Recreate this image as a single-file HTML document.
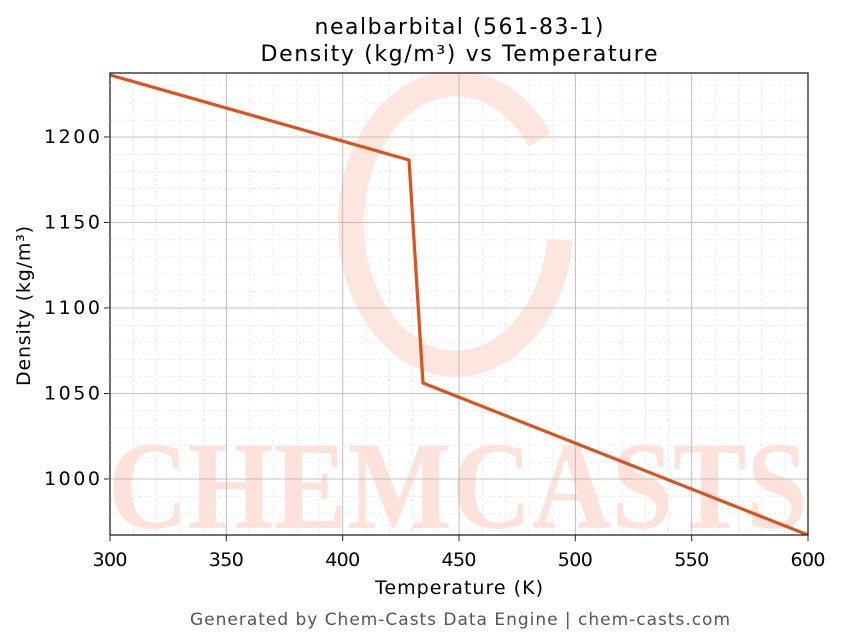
<!DOCTYPE html>
<html><head><style>body{margin:0;background:#fff}svg{display:block;font-family:"DejaVu Sans","Liberation Sans",sans-serif}</style></head><body>
<svg width="843" height="644" viewBox="0 0 843 644">
<defs>
<pattern id="mx" x="110" y="0" width="23.267" height="10" patternUnits="userSpaceOnUse"><line x1="0" y1="0" x2="0" y2="10" stroke="#d4d4d4" stroke-width="0.7" stroke-dasharray="2,2"/></pattern>
<pattern id="my" x="0" y="137" width="10" height="17.1" patternUnits="userSpaceOnUse"><line x1="0" y1="0" x2="10" y2="0" stroke="#d4d4d4" stroke-width="0.7" stroke-dasharray="2,2"/></pattern>
<clipPath id="c"><rect x="110" y="73" width="698" height="462"/></clipPath>
</defs>
<g clip-path="url(#c)">
<rect x="110" y="73" width="698" height="462" fill="url(#mx)"/>
<rect x="110" y="73" width="698" height="462" fill="url(#my)"/>
<g fill="none" stroke="#fde6e0" stroke-width="26"><path d="M540 140 A 105 140 0 1 0 560 240"/></g>
<text x="458" y="528" text-anchor="middle" font-size="125" font-weight="bold" fill="#fde2dc" font-family="Liberation Serif,serif" textLength="700" lengthAdjust="spacingAndGlyphs">CHEMCASTS</text>
<g stroke="#b0b0b0" stroke-width="0.8">
<line x1="226.3" y1="73" x2="226.3" y2="535"/><line x1="342.7" y1="73" x2="342.7" y2="535"/><line x1="459" y1="73" x2="459" y2="535"/><line x1="575.3" y1="73" x2="575.3" y2="535"/><line x1="691.7" y1="73" x2="691.7" y2="535"/>
<line x1="110" y1="137" x2="808" y2="137"/><line x1="110" y1="222.5" x2="808" y2="222.5"/><line x1="110" y1="308" x2="808" y2="308"/><line x1="110" y1="393.5" x2="808" y2="393.5"/><line x1="110" y1="479" x2="808" y2="479"/>
</g>
<polyline points="110,75 409,160 423,383 808,535" fill="none" stroke="#d9521f" stroke-width="3.2" stroke-linejoin="round"/>
</g>
<rect x="110" y="73" width="698" height="462" fill="none" stroke="#222" stroke-width="1.3"/>
<g stroke="#222" stroke-width="1">
<line x1="110" y1="535" x2="110" y2="541"/><line x1="226.3" y1="535" x2="226.3" y2="541"/><line x1="342.7" y1="535" x2="342.7" y2="541"/><line x1="459" y1="535" x2="459" y2="541"/><line x1="575.3" y1="535" x2="575.3" y2="541"/><line x1="691.7" y1="535" x2="691.7" y2="541"/><line x1="808" y1="535" x2="808" y2="541"/>
<line x1="104" y1="137" x2="110" y2="137"/><line x1="104" y1="222.5" x2="110" y2="222.5"/><line x1="104" y1="308" x2="110" y2="308"/><line x1="104" y1="393.5" x2="110" y2="393.5"/><line x1="104" y1="479" x2="110" y2="479"/>
</g>
<rect x="107" y="73" width="3" height="462" fill="url(#my)"/>
<g font-size="19" fill="#000" text-anchor="middle" lengthAdjust="spacingAndGlyphs">
<text x="110" y="566" textLength="35">300</text><text x="226.3" y="566" textLength="35">350</text><text x="342.7" y="566" textLength="35">400</text><text x="459" y="566" textLength="35">450</text><text x="575.3" y="566" textLength="35">500</text><text x="691.7" y="566" textLength="35">550</text><text x="808" y="566" textLength="35">600</text>
</g>
<g font-size="19" fill="#000" text-anchor="end">
<text x="100" y="143" textLength="56">1200</text><text x="100" y="228.5" textLength="56">1150</text><text x="100" y="314" textLength="56">1100</text><text x="100" y="399.5" textLength="56">1050</text><text x="100" y="485" textLength="56">1000</text>
</g>
<text x="459" y="594" font-size="19" text-anchor="middle" textLength="168">Temperature (K)</text>
<text x="30" y="306" font-size="19" text-anchor="middle" transform="rotate(-90 30 306)" textLength="160">Density (kg/m³)</text>
<text x="459" y="34" font-size="22" text-anchor="middle" textLength="289">nealbarbital (561-83-1)</text>
<text x="459" y="61" font-size="22" text-anchor="middle" textLength="397">Density (kg/m³) vs Temperature</text>
<text x="460" y="625" font-size="17" fill="#555" text-anchor="middle" textLength="540">Generated by Chem-Casts Data Engine | chem-casts.com</text>
</svg>
</body></html>
